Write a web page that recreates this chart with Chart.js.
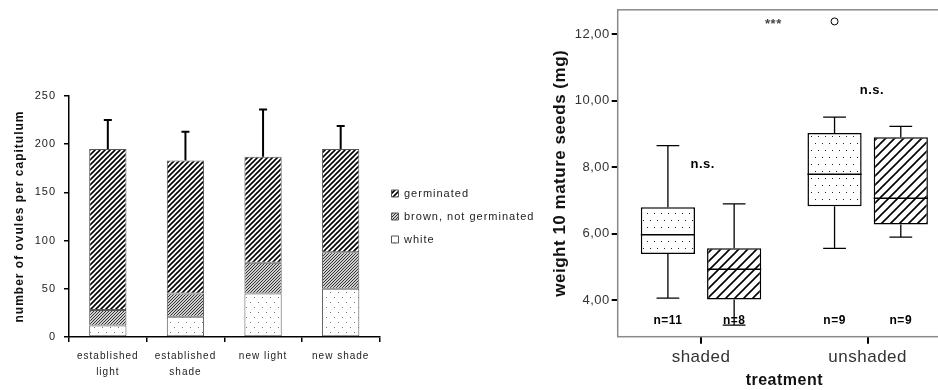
<!DOCTYPE html>
<html><head><meta charset="utf-8">
<script src="https://cdn.jsdelivr.net/npm/chart.js@4"></script>
<style>
html,body{margin:0;padding:0;background:#fff;overflow:hidden;width:938px;height:390px;position:relative;}
#c1{position:absolute;left:0;top:0;}
#c2{position:absolute;left:520px;top:0;}
</style></head><body>
<canvas id="c1" width="600" height="390"></canvas>
<canvas id="c2" width="440" height="390"></canvas>
<script>
// ---------- Left panel data ----------
const plantTypes = [['established','light'],['established','shade'],'new light','new shade'];
const whiteOvules = [12, 21, 45, 50];
const brownOvules = [16, 24, 32, 38];
const germinatedOvules = [167, 138, 110, 107];
const ovuleErrorTop = [225, 213, 236, 219];
const ovuleTicks = [0, 50, 100, 150, 200, 250];
const stackNames = ['white', 'brown, not germinated', 'germinated'];

// ---------- Right panel data ----------
const treatments = ['shaded', 'unshaded'];
const boxNames = ['dotted', 'hatched'];
const dottedMin = [4.06, 5.56];
const dottedQ1 = [5.39, 6.83];
const dottedMedian = [5.97, 7.79];
const dottedQ3 = [6.80, 9.03];
const dottedMax = [8.65, 9.51];
const dottedOutliers = [[], [12.39]];
const dottedN = ['n=11', 'n=9'];
const hatchedMin = [3.25, 5.90];
const hatchedQ1 = [4.02, 6.28];
const hatchedMedian = [4.93, 7.07];
const hatchedQ3 = [5.56, 8.90];
const hatchedMax = [6.90, 9.23];
const hatchedOutliers = [[], []];
const hatchedN = ['n=8', 'n=9'];
const weightTicks = [4, 6, 8, 10, 12];
const nLabelY = 3.37;
const notes = [
  {text: 'n.s.', x: 0.01, y: 8.08},
  {text: 'n.s.', x: 1.026, y: 10.31},
  {text: '***', x: 0.434, y: 12.39}
];

// ---------- patterns ----------
function tile(w, h, draw) {
  const c = document.createElement('canvas'); c.width = w; c.height = h;
  const g = c.getContext('2d'); g.fillStyle = '#fff'; g.fillRect(0, 0, w, h); draw(g); return c;
}
function hatch(s, lw, col) {
  return tile(s, s, g => {
    g.strokeStyle = col; g.lineWidth = lw; g.beginPath();
    g.moveTo(-1, s + 1); g.lineTo(s + 1, -1);
    g.moveTo(-1, 1); g.lineTo(1, -1);
    g.moveTo(s - 1, s + 1); g.lineTo(s + 1, s - 1);
    g.stroke();
  });
}
const ctx1 = document.getElementById('c1').getContext('2d');
const ctx2 = document.getElementById('c2').getContext('2d');
const patGerm = ctx1.createPattern(hatch(5, 1.6, '#000'), 'repeat');
const patBrown = ctx1.createPattern(tile(3, 3, g => {
  g.fillStyle = '#cfcfcf'; g.fillRect(0,0,3,3);
  g.fillStyle = '#333'; g.fillRect(2,0,1,1); g.fillRect(1,1,1,1); g.fillRect(0,2,1,1);
}), 'repeat');
const patWhite = ctx1.createPattern(tile(8, 10, g => { g.fillStyle = '#777'; g.fillRect(2,2,1,1); g.fillRect(6,7,1,1); }), 'repeat');
const patDots = ctx2.createPattern(tile(7, 14, g => { g.fillStyle = '#222'; g.fillRect(1,3,1,1); g.fillRect(4,10,1,1); }), 'repeat');
const patHatch = ctx2.createPattern(hatch(9, 1.6, '#000'), 'repeat');

const spacing = (px) => ({
  id: 'spacing' + px,
  beforeUpdate(chart) { chart.ctx.letterSpacing = px; },
  beforeDraw(chart) { chart.ctx.letterSpacing = px; }
});

// ---------- Left chart ----------
const errorPlugin = {
  id: 'errbars',
  afterLayout(chart) {
    // widen the legend's clip box so the longest label is not cut off
    if (chart.legend) { chart.legend.width += 60; chart.legend.right += 60; }
  },
  afterDatasetsDraw(chart) {
    const ctx = chart.ctx, ys = chart.scales.y;
    const meta = chart.getDatasetMeta(2);
    ctx.save(); ctx.strokeStyle = '#000'; ctx.lineWidth = 2;
    meta.data.forEach((bar, i) => {
      const yt = ys.getPixelForValue(ovuleErrorTop[i]);
      ctx.beginPath(); ctx.moveTo(bar.x, bar.y); ctx.lineTo(bar.x, yt);
      ctx.moveTo(bar.x - 4, yt); ctx.lineTo(bar.x + 4, yt); ctx.stroke();
    });
    ctx.restore();
  }
};
const fontL = 'Liberation Sans';
new Chart(ctx1, {
  type: 'bar',
  data: {
    labels: plantTypes,
    datasets: [
      {label: stackNames[0], data: whiteOvules, backgroundColor: patWhite},
      {label: stackNames[1], data: brownOvules, backgroundColor: patBrown},
      {label: stackNames[2], data: germinatedOvules, backgroundColor: patGerm}
    ].map(d => Object.assign(d, {borderColor: '#555', borderWidth: 1, borderSkipped: false, categoryPercentage: 1, barPercentage: 0.48}))
  },
  options: {
    responsive: false, animation: false,
    layout: {padding: {top: 96, left: 0, right: 94, bottom: 0}},
    plugins: {
      tooltip: {enabled: false},
      legend: {
        position: 'right', fullSize: false, reverse: true,
        labels: {boxWidth: 7, boxHeight: 7, padding: 12, color: '#222', font: {family: fontL, size: 11}}
      }
    },
    scales: {
      x: {
        stacked: true, offset: true,
        grid: {display: true, drawOnChartArea: false, offset: true, tickLength: 5, color: '#000', lineWidth: 1.5},
        border: {display: true, color: '#000', width: 1.5},
        ticks: {color: '#222', padding: 6, font: {family: fontL, size: 10, lineHeight: 1.6}, maxRotation: 0, autoSkip: false},
        afterFit: s => { s.height = 53; }
      },
      y: {
        stacked: true, min: 0, max: 250,
        afterBuildTicks: s => { s.ticks = ovuleTicks.map(v => ({value: v})); },
        grid: {display: true, drawOnChartArea: false, tickLength: 5, color: '#000', lineWidth: 1.5},
        border: {display: true, color: '#000', width: 1.5},
        ticks: {color: '#222', padding: 8, font: {family: fontL, size: 11}},
        title: {display: true, text: 'number of ovules per capitulum', color: '#111', padding: {top: 12, bottom: 0}, font: {family: fontL, size: 12, weight: 'bold'}},
        afterFit: s => { s.width = 69; }
      }
    }
  },
  plugins: [spacing('1px'), errorPlugin]
});

// ---------- Right chart ----------
const boxStats = [
  {min: dottedMin, med: dottedMedian, max: dottedMax, out: dottedOutliers, n: dottedN},
  {min: hatchedMin, med: hatchedMedian, max: hatchedMax, out: hatchedOutliers, n: hatchedN}
];
const framePlugin = {
  id: 'frame',
  beforeDatasetsDraw(chart) {
    const {ctx, chartArea: a} = chart;
    ctx.save(); ctx.strokeStyle = '#8a8a8a'; ctx.lineWidth = 1.5;
    ctx.strokeRect(a.left, a.top, a.right - a.left, a.bottom - a.top); ctx.restore();
  }
};
const boxPlugin = {
  id: 'boxes',
  afterDatasetsDraw(chart) {
    const ctx = chart.ctx, ys = chart.scales.y, xs = chart.scales.x;
    ctx.save();
    chart.data.datasets.forEach((ds, di) => {
      const st = boxStats[di];
      chart.getDatasetMeta(di).data.forEach((bar, i) => {
        const x = bar.x, w = bar.width, cap = w * 0.21;
        const yQ1 = ys.getPixelForValue(ds.data[i][0]), yQ3 = ys.getPixelForValue(ds.data[i][1]);
        const yMin = ys.getPixelForValue(st.min[i]), yMax = ys.getPixelForValue(st.max[i]);
        const yMed = ys.getPixelForValue(st.med[i]);
        ctx.strokeStyle = '#000'; ctx.lineWidth = 1.3;
        ctx.beginPath();
        ctx.moveTo(x, yQ3); ctx.lineTo(x, yMax);
        ctx.moveTo(x - cap, yMax); ctx.lineTo(x + cap, yMax);
        ctx.moveTo(x, yQ1); ctx.lineTo(x, yMin);
        ctx.moveTo(x - cap, yMin); ctx.lineTo(x + cap, yMin);
        ctx.stroke();
        ctx.lineWidth = 1.5; ctx.beginPath();
        ctx.moveTo(x - w / 2, yMed); ctx.lineTo(x + w / 2, yMed); ctx.stroke();
        ctx.lineWidth = 1;
        st.out[i].forEach(v => {
          ctx.beginPath(); ctx.arc(x, ys.getPixelForValue(v), 3.5, 0, Math.PI * 2);
          ctx.fillStyle = '#fff'; ctx.fill(); ctx.stroke();
        });
        ctx.fillStyle = '#000'; ctx.font = 'bold 12px "Liberation Sans"';
        ctx.textAlign = 'center'; ctx.textBaseline = 'middle';
        ctx.fillText(st.n[i], x, ys.getPixelForValue(nLabelY));
      });
    });
    notes.forEach(nt => {
      const star = nt.text === '***';
      ctx.fillStyle = star ? '#444' : '#000';
      ctx.font = 'bold 13px "Liberation Sans"';
      ctx.textAlign = 'center'; ctx.textBaseline = 'middle';
      ctx.fillText(nt.text, xs.getPixelForValue(nt.x), ys.getPixelForValue(nt.y) + (star ? 3 : 0));
    });
    ctx.restore();
  }
};
new Chart(ctx2, {
  type: 'bar',
  data: {
    labels: treatments,
    datasets: [
      {label: boxNames[0], data: dottedQ1.map((q, i) => [q, dottedQ3[i]]), backgroundColor: patDots},
      {label: boxNames[1], data: hatchedQ1.map((q, i) => [q, hatchedQ3[i]]), backgroundColor: patHatch}
    ].map(d => Object.assign(d, {borderColor: '#000', borderWidth: 1.5, borderSkipped: false, categoryPercentage: 0.795, barPercentage: 0.818}))
  },
  options: {
    responsive: false, animation: false,
    layout: {padding: {top: 9, right: 9, left: 0, bottom: 0}},
    plugins: {legend: {display: false}, tooltip: {enabled: false}},
    scales: {
      x: {
        offset: true,
        grid: {display: true, drawOnChartArea: false, offset: false, tickLength: 7, color: '#000', lineWidth: 2},
        border: {display: false},
        ticks: {color: '#333', padding: 3, font: {family: fontL, size: 17}},
        title: {display: true, text: 'treatment', color: '#111', padding: {top: 0, bottom: 0}, font: {family: fontL, size: 16, weight: 'bold'}},
        afterFit: s => { s.height = 53.3; }
      },
      y: {
        min: 2.9, max: 12.74,
        afterBuildTicks: s => { s.ticks = weightTicks.map(v => ({value: v})); },
        grid: {display: true, drawOnChartArea: false, tickLength: 6, color: '#000', lineWidth: 2},
        border: {display: false},
        ticks: {color: '#333', padding: 2, font: {family: fontL, size: 13}, callback: v => v.toFixed(2).replace('.', ',')},
        title: {display: true, text: 'weight 10 mature seeds (mg)', color: '#111', padding: {top: 30, bottom: 0}, font: {family: fontL, size: 17, weight: 'bold'}},
        afterFit: s => { s.width = 97.7; }
      }
    }
  },
  plugins: [spacing('0.5px'), framePlugin, boxPlugin]
});
</script>
</body></html>
